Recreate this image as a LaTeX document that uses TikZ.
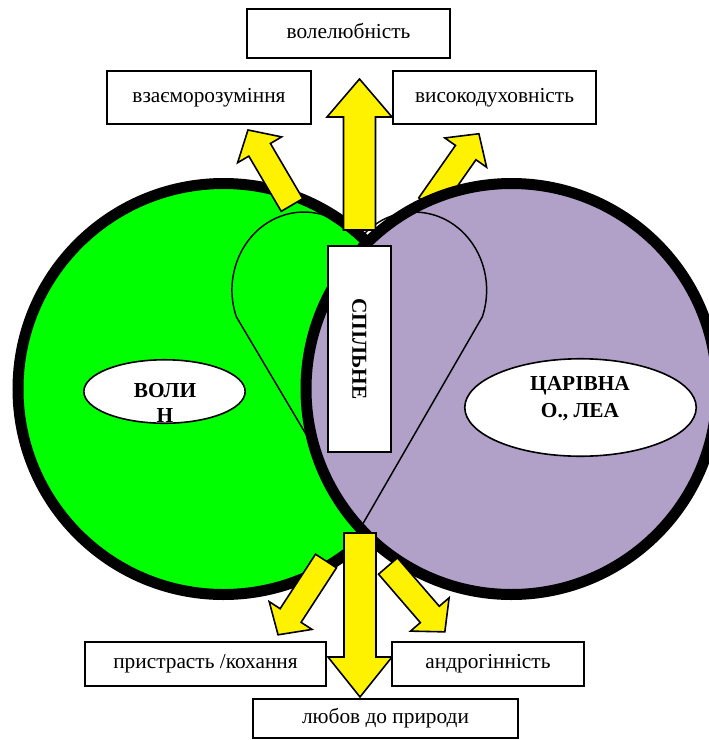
\documentclass[tikz,border=0pt]{standalone}
\usepackage{fontspec}
\setmainfont{Liberation Serif}
\usepackage{tikz}
\usetikzlibrary{shapes.geometric}
\definecolor{green2}{RGB}{0,255,0}
\definecolor{lilac2}{RGB}{177,160,199}
\tikzset{
  wordbox/.style={draw=black, line width=1.5pt, fill=white, rectangle, inner sep=0pt,
    text height=7.3pt, text depth=0pt, font=\fontsize{16pt}{19pt}\selectfont},
  ovalbox/.style={draw=black, line width=1.2pt, fill=white, ellipse, inner sep=0pt},
  ovaltext/.style={align=center, inner sep=0pt},
  yarrow/.style={fill=yellow, draw=black, line width=1.2pt, line join=miter},
  heartline/.style={draw=black, line width=1.1pt},
  ring/.style={draw=black, line width=8.25pt}
}

\begin{document}
\begin{tikzpicture}[x=0.75pt,y=-0.75pt]
	\newcommand \ringrad{205.5}
	\newcommand \lobex{72}
	\newcommand \lobey{78}
	\newcommand \blockarrow[6]{\filldraw[yarrow, shift={(#1)}, rotate=#2] (0,-#4) -- ({#3-#6},-#4) -- ({#3-#6},-#5) -- (#3,0) -- ({#3-#6},#5) -- ({#3-#6},#4) -- (0,#4) -- cycle;}
	\clip (0,0) rectangle (709,740);

	\coordinate (leftc) at (223.5,389);
	\coordinate (rightc) at (511.5,389);
	\coordinate (hearttip) at (361,527);
	\coordinate (cusp) at (359.5,240);
	\coordinate (upfoot) at (359.5,230);
	\coordinate (downfoot) at (360,533);
	\coordinate (ulfoot) at (292,205);
	\coordinate (urfoot) at (429,205);
	\coordinate (llfoot) at (326,561);
	\coordinate (lrfoot) at (388,566);

%% left ring and the heart
	\filldraw[ring, fill=green2] (leftc) circle[radius=\ringrad];
	\draw[heartline] (hearttip) -- (236.3,316.7) arc[start angle=160, end angle=320, x radius=\lobex, y radius=\lobey] arc[start angle=220, end angle=380, x radius=\lobex, y radius=\lobey] -- cycle;

%% this one lies under the right ring
	\blockarrow{urfoot}{55}{87}{12.5}{25.5}{23}

%% right ring, heart again on top of it
	\fill[lilac2] (rightc) circle[radius=\ringrad];
	\begin{scope}
	\clip (rightc) circle[radius=\ringrad];
	\draw[heartline] (cusp) arc[start angle=220, end angle=380, x radius=\lobex, y radius=\lobey] -- (hearttip);
	\end{scope}
	\draw[ring] (rightc) circle[radius=\ringrad];

%% arrows
	\blockarrow{upfoot}{90}{151}{16}{32.5}{38}
	\blockarrow{downfoot}{-90}{164}{16}{32}{40}
\foreach \foot/\ang/\len in {ulfoot/120.4/87, llfoot/237/88, lrfoot/-49.2/87}
{
	\blockarrow{\foot}{\ang}{\len}{12.5}{25.5}{23}
}

%% names
	\node[ovalbox, minimum width=121pt, minimum height=47.6pt] (volynoval) at (164.5,391.5) {};
	\node[ovaltext, font=\bfseries\fontsize{16pt}{18.4pt}\selectfont] (volyn) at (165,402.75) {ВОЛИ\\Н};
	\node[ovalbox, minimum width=173.6pt, minimum height=73.1pt] (tsarivnaoval) at (580.5,407.5) {};
	\node[ovaltext, font=\bfseries\fontsize{16pt}{20.25pt}\selectfont] (tsarivna) at (580,398.5) {ЦАРІВНА\\О., ЛЕА};

%% boxes
	\node[wordbox, font=\bfseries\fontsize{16pt}{19pt}\selectfont, text height=10.6pt, rotate=-90, minimum width=154.5pt, minimum height=47.25pt] (spilne) at (359.5,349) {СПІЛЬНЕ};
	\node[wordbox, minimum width=152.25pt, minimum height=36.75pt] (volia) at (348.5,33.5) {волелюбність};
	\node[wordbox, minimum width=153pt, minimum height=39.75pt] (vzaiem) at (209,97.5) {взаєморозуміння};
	\node[wordbox, minimum width=152.25pt, minimum height=39.75pt] (vysok) at (494.5,97.5) {високодуховність};
	\node[wordbox, minimum width=180.75pt, minimum height=33pt] (prystr) at (205.5,664) {пристрасть /кохання};
	\node[wordbox, minimum width=144pt, minimum height=33pt] (androg) at (488,664) {андрогінність};
	\node[wordbox, minimum width=198.75pt, minimum height=29.25pt] (liubov) at (385.5,718.5) {любов до природи};

\end{tikzpicture}
\end{document}
